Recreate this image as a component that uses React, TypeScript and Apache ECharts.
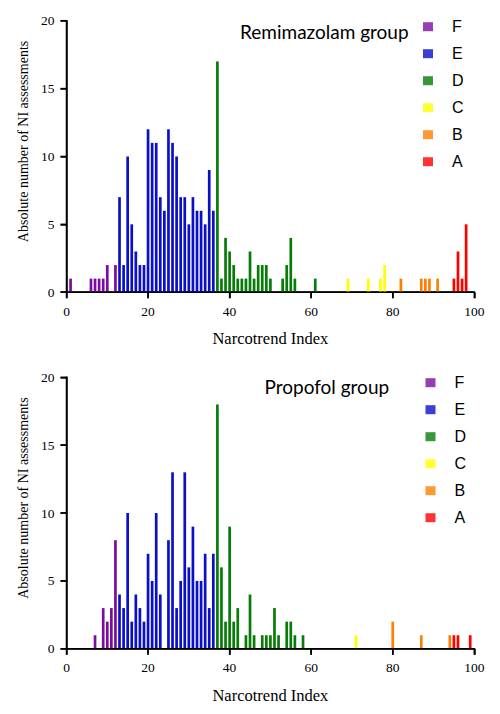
import React, { useEffect, useRef } from "react";
import * as echarts from "echarts";

// Narcotrend stages
const STAGES = ["F", "E", "D", "C", "B", "A"];
const STAGE_UPPER = [12, 36, 64, 79, 94, 100];
const STAGE_COLORS = ["#7B0C9F", "#0A10C8", "#077C07", "#FFFF00", "#FF8000", "#FF0000"];

// Remimazolam group: Narcotrend index values and counts
const REMI_NI = [1, 6, 7, 8, 9, 10, 12, 13, 14, 15, 16, 17, 18, 19, 20, 21, 22, 23, 24, 25, 26, 27, 28, 29, 30, 31, 32, 33, 34, 35, 36, 37, 38, 39, 40, 41, 42, 43, 44, 45, 46, 47, 48, 49, 50, 53, 54, 55, 56, 61, 69, 74, 77, 78, 82, 87, 88, 89, 91, 95, 96, 97, 98];
const REMI_N = [1, 1, 1, 1, 1, 2, 2, 7, 2, 10, 5, 3, 2, 2, 12, 11, 11, 7, 6, 12, 11, 10, 7, 7, 5, 7, 6, 6, 5, 9, 6, 17, 1, 4, 3, 2, 1, 1, 1, 3, 1, 2, 2, 2, 1, 1, 2, 4, 1, 1, 1, 1, 1, 2, 1, 1, 1, 1, 1, 1, 3, 1, 5];

// Propofol group
const PROP_NI = [7, 9, 10, 11, 12, 13, 14, 15, 16, 17, 18, 19, 20, 21, 22, 23, 25, 26, 27, 28, 29, 30, 31, 32, 33, 34, 35, 36, 37, 38, 39, 40, 41, 42, 44, 45, 46, 48, 49, 50, 51, 52, 54, 55, 56, 58, 71, 80, 87, 94, 95, 96, 99];
const PROP_N = [1, 3, 2, 3, 8, 4, 3, 10, 2, 4, 3, 2, 7, 5, 10, 4, 8, 13, 3, 5, 13, 6, 9, 5, 5, 7, 3, 7, 18, 6, 2, 9, 2, 3, 1, 4, 1, 1, 1, 1, 3, 1, 2, 2, 1, 1, 1, 2, 1, 1, 1, 1, 1];

// Axis ticks
const X_TICKS = [0, 20, 40, 60, 80, 100];
const Y_TICKS = [0, 5, 10, 15, 20];

const PANEL_TITLES = ["Remimazolam group", "Propofol group"];
const X_NAME = "Narcotrend Index";
const Y_NAME = "Absolute number of NI assessments";

function stageColor(ni: number): string {
  for (let i = 0; i < STAGE_UPPER.length; i++) {
    if (ni <= STAGE_UPPER[i]) return STAGE_COLORS[i];
  }
  return STAGE_COLORS[STAGE_COLORS.length - 1];
}

function barData(nis: number[], ns: number[]) {
  return nis.map((x, i) => ({ value: [x, ns[i]], itemStyle: { color: stageColor(x) } }));
}

const SERIF = "Liberation Serif";
const SANS = "Liberation Sans";
const TITLE_FONT = "Lato";
const LW = 1.5;
const TICK = 6;

export default function App() {
  const ref = useRef<HTMLDivElement>(null);
  useEffect(() => {
    if (!ref.current) return;
    document.body.style.margin = "0";
    const chart = echarts.init(ref.current, undefined, { renderer: "svg" });
    const tops = [20.7, 377.3];
    const grids = tops.map((t) => ({ left: 66.5, right: 25.7, top: t, height: 271.5 }));
    const xAxes = tops.map((_, i) => ({
      type: "value",
      gridIndex: i,
      min: X_TICKS[0],
      max: X_TICKS[X_TICKS.length - 1],
      interval: 20,
      name: X_NAME,
      nameLocation: "middle",
      nameGap: 38,
      nameTextStyle: { fontFamily: SERIF, fontSize: 16.5, color: "#000" },
      axisLine: { show: true, onZero: false, lineStyle: { color: "#000", width: LW } },
      axisTick: { show: true, length: TICK, lineStyle: { color: "#000", width: LW } },
      axisLabel: { fontFamily: SERIF, fontSize: 13.5, color: "#000", margin: 12 },
      splitLine: { show: false },
    }));
    const yAxes = tops.map((_, i) => ({
      type: "value",
      gridIndex: i,
      min: Y_TICKS[0],
      max: Y_TICKS[Y_TICKS.length - 1],
      interval: 5,
      name: Y_NAME,
      nameLocation: "middle",
      nameRotate: 90,
      nameGap: 27,
      nameTextStyle: { fontFamily: SERIF, fontSize: 14, color: "#000", padding: [0, 0, 0, 30] },
      axisLine: { show: true, onZero: false, lineStyle: { color: "#000", width: LW } },
      axisTick: { show: true, length: TICK, lineStyle: { color: "#000", width: LW } },
      axisLabel: { fontFamily: SERIF, fontSize: 13.5, color: "#000", margin: 12 },
      splitLine: { show: false },
    }));
    const series: any[] = [
      { type: "bar", xAxisIndex: 0, yAxisIndex: 0, barWidth: 2.7, data: barData(REMI_NI, REMI_N) },
      { type: "bar", xAxisIndex: 1, yAxisIndex: 1, barWidth: 2.7, data: barData(PROP_NI, PROP_N) },
    ];
    STAGES.forEach((s, i) =>
      series.push({ name: s, type: "scatter", xAxisIndex: 0, yAxisIndex: 0, data: [], itemStyle: { color: STAGE_COLORS[i] } })
    );
    const legendTops = [18.7, 374.7];
    const legendLefts = [423, 425.5];
    const option: any = {
      animation: false,
      grid: grids,
      xAxis: xAxes,
      yAxis: yAxes,
      series,
      title: PANEL_TITLES.map((t, i) => ({
        text: t,
        left: i === 0 ? 240 : 264.5,
        top: i === 0 ? 22 : 376.5,
        padding: 0,
        textStyle: { fontFamily: TITLE_FONT, fontSize: 19, fontWeight: "normal", color: "#000" },
      })),
      legend: legendTops.map((t, i) => ({
        data: STAGES,
        orient: "vertical",
        left: legendLefts[i],
        top: t,
        padding: 0,
        itemWidth: 10,
        itemHeight: 9,
        itemGap: 11,
        icon: "rect",
        selectedMode: false,
        textStyle: { fontFamily: SANS, fontSize: 16, lineHeight: 16, color: "#000", padding: [0, 0, 0, 14] },
      })),
    };
    chart.setOption(option);

    // Axis lines and ticks as filled rects, positioned through the chart's own scales
    const xMin = X_TICKS[0];
    const xMax = X_TICKS[X_TICKS.length - 1];
    const yMin = Y_TICKS[0];
    const yMax = Y_TICKS[Y_TICKS.length - 1];
    const elements: any[] = [];
    tops.forEach((_, g) => {
      const finder = { gridIndex: g };
      const origin = chart.convertToPixel(finder, [xMin, yMin]) as number[];
      const xEnd = chart.convertToPixel(finder, [xMax, yMin]) as number[];
      const yEnd = chart.convertToPixel(finder, [xMin, yMax]) as number[];
      if (!origin || !xEnd || !yEnd) return;
      const fill = { fill: "#000" };
      // y axis line
      elements.push({
        type: "rect", silent: true, z: 100,
        shape: { x: origin[0] - LW / 2, y: yEnd[1] - LW / 2, width: LW, height: origin[1] - yEnd[1] + LW },
        style: fill,
      });
      // x axis line
      elements.push({
        type: "rect", silent: true, z: 100,
        shape: { x: origin[0] - LW / 2, y: origin[1] - LW / 2, width: xEnd[0] - origin[0] + LW, height: LW },
        style: fill,
      });
      Y_TICKS.forEach((v) => {
        const p = chart.convertToPixel(finder, [xMin, v]) as number[];
        elements.push({
          type: "rect", silent: true, z: 100,
          shape: { x: p[0] - TICK, y: p[1] - LW / 2, width: TICK, height: LW },
          style: fill,
        });
      });
      X_TICKS.forEach((v) => {
        const p = chart.convertToPixel(finder, [v, yMin]) as number[];
        elements.push({
          type: "rect", silent: true, z: 100,
          shape: { x: p[0] - LW / 2, y: p[1], width: LW, height: TICK },
          style: fill,
        });
      });
    });
    chart.setOption({ graphic: elements });
    return () => chart.dispose();
  }, []);
  return <div ref={ref} style={{ width: 500, height: 714 }} />;
}
